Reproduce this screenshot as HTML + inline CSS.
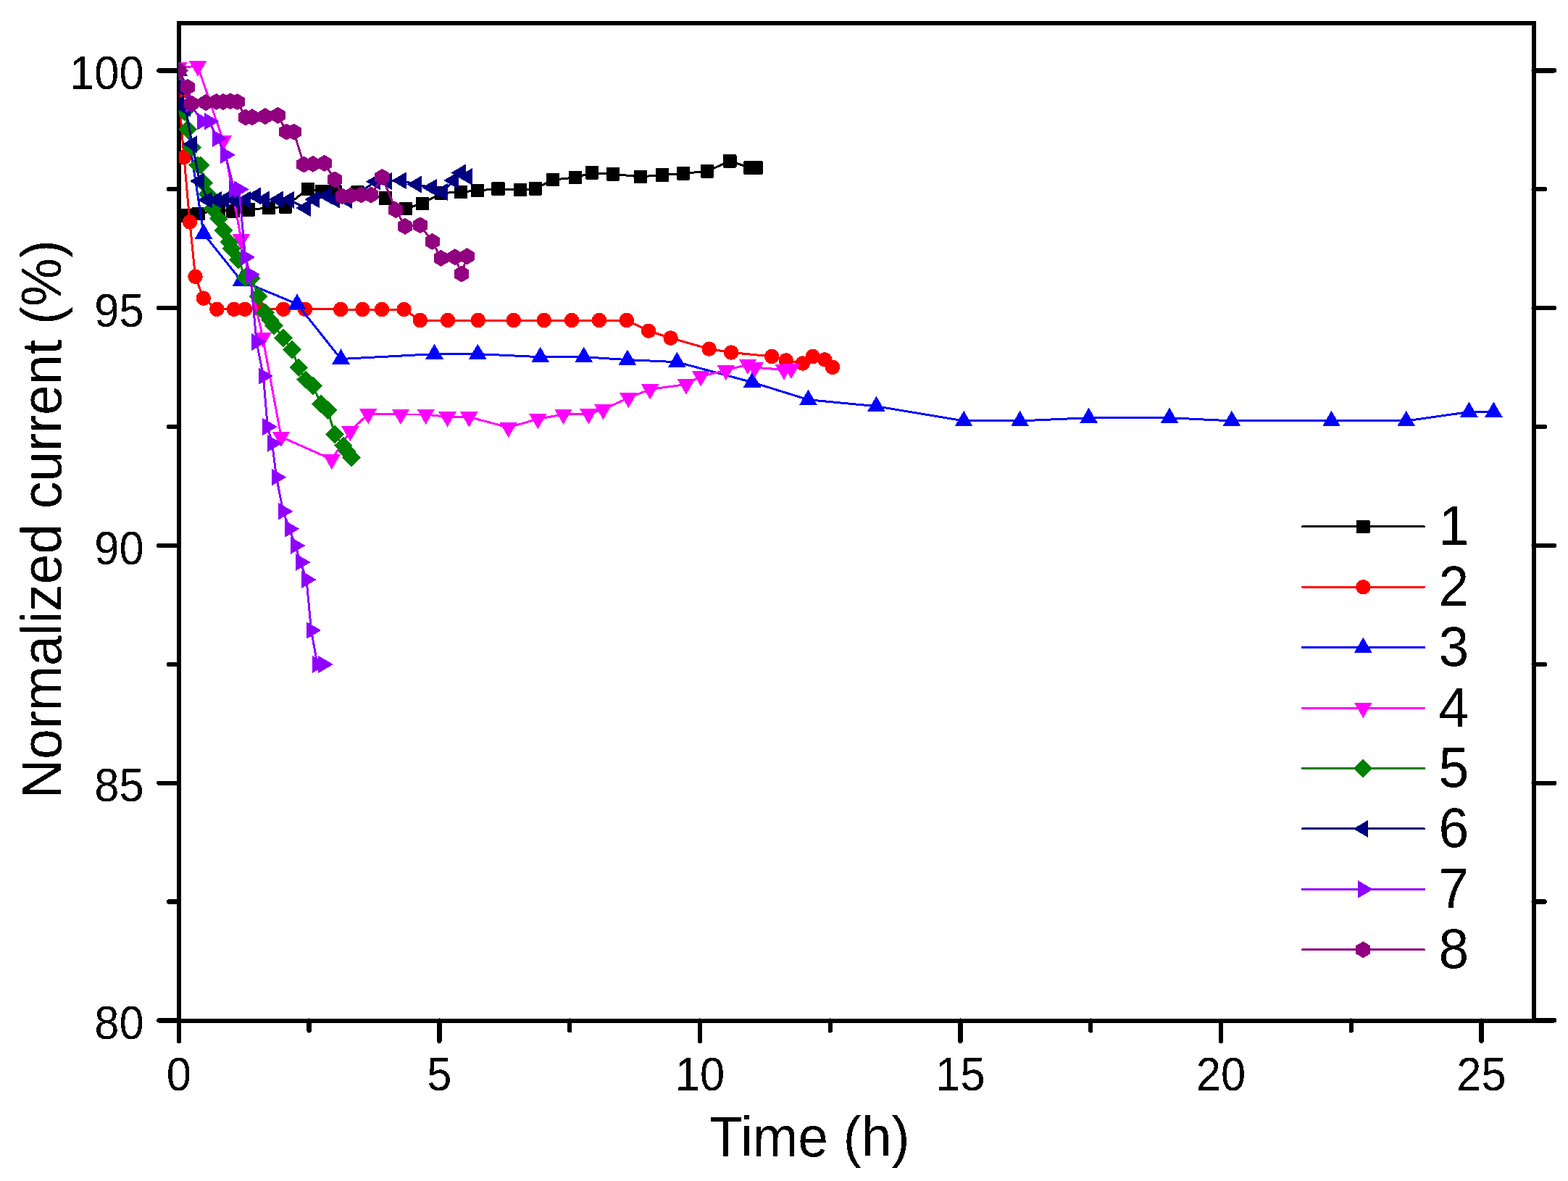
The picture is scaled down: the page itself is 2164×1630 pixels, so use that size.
<!DOCTYPE html>
<html><head><meta charset="utf-8"><title>Normalized current vs time</title>
<style>
html,body{margin:0;padding:0;background:#fff;}
svg{display:block;}
</style></head><body>
<svg width="2164" height="1630" viewBox="0 0 2164 1630" shape-rendering="crispEdges">
<defs><filter id="bin" filterUnits="userSpaceOnUse" x="0" y="0" width="2164" height="1630" color-interpolation-filters="sRGB"><feComponentTransfer><feFuncA type="discrete" tableValues="0 1"/></feComponentTransfer></filter><clipPath id="pc"><rect x="246.8" y="32" width="1869.8" height="1376.6"/></clipPath></defs>
<rect width="2164" height="1630" fill="#fff"/>
<g stroke="#000" stroke-width="6.3" stroke-linecap="round">
<rect x="246.8" y="32" width="1869.8" height="1376.6" fill="none" stroke="#000" stroke-width="6.0"/>
<line x1="246.8" y1="1408.6" x2="246.8" y2="1436.9"/>
<line x1="426.57" y1="1408.6" x2="426.57" y2="1422.4"/>
<line x1="606.35" y1="1408.6" x2="606.35" y2="1436.9"/>
<line x1="786.12" y1="1408.6" x2="786.12" y2="1422.4"/>
<line x1="965.9" y1="1408.6" x2="965.9" y2="1436.9"/>
<line x1="1145.67" y1="1408.6" x2="1145.67" y2="1422.4"/>
<line x1="1325.45" y1="1408.6" x2="1325.45" y2="1436.9"/>
<line x1="1505.22" y1="1408.6" x2="1505.22" y2="1422.4"/>
<line x1="1685" y1="1408.6" x2="1685" y2="1436.9"/>
<line x1="1864.77" y1="1408.6" x2="1864.77" y2="1422.4"/>
<line x1="2044.55" y1="1408.6" x2="2044.55" y2="1436.9"/>
<line x1="219.2" y1="1408.4" x2="246.8" y2="1408.4"/>
<line x1="2116.6" y1="1408.4" x2="2145.1" y2="1408.4"/>
<line x1="233" y1="1244.53" x2="246.8" y2="1244.53"/>
<line x1="2116.6" y1="1244.53" x2="2131.9" y2="1244.53"/>
<line x1="219.2" y1="1080.65" x2="246.8" y2="1080.65"/>
<line x1="2116.6" y1="1080.65" x2="2145.1" y2="1080.65"/>
<line x1="233" y1="916.77" x2="246.8" y2="916.77"/>
<line x1="2116.6" y1="916.77" x2="2131.9" y2="916.77"/>
<line x1="219.2" y1="752.9" x2="246.8" y2="752.9"/>
<line x1="2116.6" y1="752.9" x2="2145.1" y2="752.9"/>
<line x1="233" y1="589.02" x2="246.8" y2="589.02"/>
<line x1="2116.6" y1="589.02" x2="2131.9" y2="589.02"/>
<line x1="219.2" y1="425.15" x2="246.8" y2="425.15"/>
<line x1="2116.6" y1="425.15" x2="2145.1" y2="425.15"/>
<line x1="233" y1="261.27" x2="246.8" y2="261.27"/>
<line x1="2116.6" y1="261.27" x2="2131.9" y2="261.27"/>
<line x1="219.2" y1="97.4" x2="246.8" y2="97.4"/>
<line x1="2116.6" y1="97.4" x2="2145.1" y2="97.4"/>
</g>
<g clip-path="url(#pc)">
<g fill="#000000">
<path d="M247 297.2 L256 297.2 L273.7 295 L301.2 290 L321.5 291.2 L342.7 289.3 L371 287 L394 285.2 L424.9 260.8 L443.9 264.4 L462.3 264.4 L493.5 265.4 L532 273.5 L559.8 287.8 L582.9 281 L609.1 266.6 L635.9 265 L659 263 L687.5 260.6 L718.1 262.1 L739 260.2 L763 248 L794.1 245.1 L817 238.4 L846 240.3 L883.9 243.9 L914 241.5 L943 239.3 L976 236.4 L1007.2 222.3 L1035.5 231.5 L1043.5 231.5" fill="none" stroke="#000000" stroke-width="3.0" stroke-linejoin="round" stroke-linecap="round"/>
<rect x="237.7" y="287.9" width="18.6" height="18.6" rx="1.5"/>
<rect x="246.7" y="287.9" width="18.6" height="18.6" rx="1.5"/>
<rect x="264.4" y="285.7" width="18.6" height="18.6" rx="1.5"/>
<rect x="291.9" y="280.7" width="18.6" height="18.6" rx="1.5"/>
<rect x="312.2" y="281.9" width="18.6" height="18.6" rx="1.5"/>
<rect x="333.4" y="280" width="18.6" height="18.6" rx="1.5"/>
<rect x="361.7" y="277.7" width="18.6" height="18.6" rx="1.5"/>
<rect x="384.7" y="275.9" width="18.6" height="18.6" rx="1.5"/>
<rect x="415.6" y="251.5" width="18.6" height="18.6" rx="1.5"/>
<rect x="434.6" y="255.1" width="18.6" height="18.6" rx="1.5"/>
<rect x="453" y="255.1" width="18.6" height="18.6" rx="1.5"/>
<rect x="484.2" y="256.1" width="18.6" height="18.6" rx="1.5"/>
<rect x="522.7" y="264.2" width="18.6" height="18.6" rx="1.5"/>
<rect x="550.5" y="278.5" width="18.6" height="18.6" rx="1.5"/>
<rect x="573.6" y="271.7" width="18.6" height="18.6" rx="1.5"/>
<rect x="599.8" y="257.3" width="18.6" height="18.6" rx="1.5"/>
<rect x="626.6" y="255.7" width="18.6" height="18.6" rx="1.5"/>
<rect x="649.7" y="253.7" width="18.6" height="18.6" rx="1.5"/>
<rect x="678.2" y="251.3" width="18.6" height="18.6" rx="1.5"/>
<rect x="708.8" y="252.8" width="18.6" height="18.6" rx="1.5"/>
<rect x="729.7" y="250.9" width="18.6" height="18.6" rx="1.5"/>
<rect x="753.7" y="238.7" width="18.6" height="18.6" rx="1.5"/>
<rect x="784.8" y="235.8" width="18.6" height="18.6" rx="1.5"/>
<rect x="807.7" y="229.1" width="18.6" height="18.6" rx="1.5"/>
<rect x="836.7" y="231" width="18.6" height="18.6" rx="1.5"/>
<rect x="874.6" y="234.6" width="18.6" height="18.6" rx="1.5"/>
<rect x="904.7" y="232.2" width="18.6" height="18.6" rx="1.5"/>
<rect x="933.7" y="230" width="18.6" height="18.6" rx="1.5"/>
<rect x="966.7" y="227.1" width="18.6" height="18.6" rx="1.5"/>
<rect x="997.9" y="213" width="18.6" height="18.6" rx="1.5"/>
<rect x="1026.2" y="222.2" width="18.6" height="18.6" rx="1.5"/>
<rect x="1034.2" y="222.2" width="18.6" height="18.6" rx="1.5"/>
</g>
<g fill="#FF0000">
<path d="M246.6 130 L254 217 L261.9 306.4 L269.5 381.8 L280.8 411.6 L299.3 426.8 L323 426.8 L338 426.8 L359 427 L391.1 426.8 L421 426.8 L470.1 427 L500.3 427 L527 427 L557.5 427 L579.8 442 L618 442 L659.8 442 L708.8 442 L750.8 442 L789 442 L827 442 L864.8 442 L895.1 456.7 L925.6 466.5 L978.6 481.6 L1009.1 486.5 L1065.1 492 L1084.8 497.4 L1107.8 501.5 L1121.7 492 L1138.3 496.4 L1149 506.8" fill="none" stroke="#FF0000" stroke-width="3.0" stroke-linejoin="round" stroke-linecap="round"/>
<circle cx="246.6" cy="130" r="10.25"/>
<circle cx="254" cy="217" r="10.25"/>
<circle cx="261.9" cy="306.4" r="10.25"/>
<circle cx="269.5" cy="381.8" r="10.25"/>
<circle cx="280.8" cy="411.6" r="10.25"/>
<circle cx="299.3" cy="426.8" r="10.25"/>
<circle cx="323" cy="426.8" r="10.25"/>
<circle cx="338" cy="426.8" r="10.25"/>
<circle cx="359" cy="427" r="10.25"/>
<circle cx="391.1" cy="426.8" r="10.25"/>
<circle cx="421" cy="426.8" r="10.25"/>
<circle cx="470.1" cy="427" r="10.25"/>
<circle cx="500.3" cy="427" r="10.25"/>
<circle cx="527" cy="427" r="10.25"/>
<circle cx="557.5" cy="427" r="10.25"/>
<circle cx="579.8" cy="442" r="10.25"/>
<circle cx="618" cy="442" r="10.25"/>
<circle cx="659.8" cy="442" r="10.25"/>
<circle cx="708.8" cy="442" r="10.25"/>
<circle cx="750.8" cy="442" r="10.25"/>
<circle cx="789" cy="442" r="10.25"/>
<circle cx="827" cy="442" r="10.25"/>
<circle cx="864.8" cy="442" r="10.25"/>
<circle cx="895.1" cy="456.7" r="10.25"/>
<circle cx="925.6" cy="466.5" r="10.25"/>
<circle cx="978.6" cy="481.6" r="10.25"/>
<circle cx="1009.1" cy="486.5" r="10.25"/>
<circle cx="1065.1" cy="492" r="10.25"/>
<circle cx="1084.8" cy="497.4" r="10.25"/>
<circle cx="1107.8" cy="501.5" r="10.25"/>
<circle cx="1121.7" cy="492" r="10.25"/>
<circle cx="1138.3" cy="496.4" r="10.25"/>
<circle cx="1149" cy="506.8" r="10.25"/>
</g>
<g fill="#0000FF">
<path d="M246.6 97.7 L281 322.5 L333 387.6 L410 419.5 L470.5 495.5 L599.5 488.6 L659.3 488.6 L745.7 492.7 L805.7 492.7 L865.9 496.6 L934.3 499.7 L1038 527.6 L1115.5 551.7 L1209.4 560.7 L1330.1 580.9 L1407.6 580.9 L1502.6 576.7 L1614 576.7 L1699.9 580.9 L1837.5 580.9 L1940.7 580.9 L2027.4 568.6 L2061.4 568.6" fill="none" stroke="#0000FF" stroke-width="3.0" stroke-linejoin="round" stroke-linecap="round"/>
<path d="M246.6 83.6 L258.85 104.77 L234.35 104.77Z"/>
<path d="M281 308.4 L293.25 329.57 L268.75 329.57Z"/>
<path d="M333 373.5 L345.25 394.67 L320.75 394.67Z"/>
<path d="M410 405.4 L422.25 426.57 L397.75 426.57Z"/>
<path d="M470.5 481.4 L482.75 502.57 L458.25 502.57Z"/>
<path d="M599.5 474.5 L611.75 495.67 L587.25 495.67Z"/>
<path d="M659.3 474.5 L671.55 495.67 L647.05 495.67Z"/>
<path d="M745.7 478.6 L757.95 499.77 L733.45 499.77Z"/>
<path d="M805.7 478.6 L817.95 499.77 L793.45 499.77Z"/>
<path d="M865.9 482.5 L878.15 503.67 L853.65 503.67Z"/>
<path d="M934.3 485.6 L946.55 506.77 L922.05 506.77Z"/>
<path d="M1038 513.5 L1050.25 534.67 L1025.75 534.67Z"/>
<path d="M1115.5 537.6 L1127.75 558.77 L1103.25 558.77Z"/>
<path d="M1209.4 546.6 L1221.65 567.77 L1197.15 567.77Z"/>
<path d="M1330.1 566.8 L1342.35 587.97 L1317.85 587.97Z"/>
<path d="M1407.6 566.8 L1419.85 587.97 L1395.35 587.97Z"/>
<path d="M1502.6 562.6 L1514.85 583.77 L1490.35 583.77Z"/>
<path d="M1614 562.6 L1626.25 583.77 L1601.75 583.77Z"/>
<path d="M1699.9 566.8 L1712.15 587.97 L1687.65 587.97Z"/>
<path d="M1837.5 566.8 L1849.75 587.97 L1825.25 587.97Z"/>
<path d="M1940.7 566.8 L1952.95 587.97 L1928.45 587.97Z"/>
<path d="M2027.4 554.5 L2039.65 575.67 L2015.15 575.67Z"/>
<path d="M2061.4 554.5 L2073.65 575.67 L2049.15 575.67Z"/>
</g>
<g fill="#FF00FF">
<path d="M246.6 93 L273 91.4 L308 194 L332.8 330.2 L362.6 466 L388 603 L457.8 634 L483.3 595.2 L508.2 571.2 L553 572 L587.7 572 L617.5 575.5 L647.3 575.5 L701.7 590 L742.4 578.2 L777.5 572 L812.4 571.4 L832.4 565.1 L867.3 549.2 L897.1 537.4 L947 530.5 L967.2 519.4 L1001.9 511.1 L1032 503 L1041.7 507.2 L1082 510.4 L1092 509" fill="none" stroke="#FF00FF" stroke-width="3.0" stroke-linejoin="round" stroke-linecap="round"/>
<path d="M234.35 85.93 L258.85 85.93 L246.6 107.1Z"/>
<path d="M260.75 84.33 L285.25 84.33 L273 105.5Z"/>
<path d="M295.75 186.93 L320.25 186.93 L308 208.1Z"/>
<path d="M320.55 323.13 L345.05 323.13 L332.8 344.3Z"/>
<path d="M350.35 458.93 L374.85 458.93 L362.6 480.1Z"/>
<path d="M375.75 595.93 L400.25 595.93 L388 617.1Z"/>
<path d="M445.55 626.93 L470.05 626.93 L457.8 648.1Z"/>
<path d="M471.05 588.13 L495.55 588.13 L483.3 609.3Z"/>
<path d="M495.95 564.13 L520.45 564.13 L508.2 585.3Z"/>
<path d="M540.75 564.93 L565.25 564.93 L553 586.1Z"/>
<path d="M575.45 564.93 L599.95 564.93 L587.7 586.1Z"/>
<path d="M605.25 568.43 L629.75 568.43 L617.5 589.6Z"/>
<path d="M635.05 568.43 L659.55 568.43 L647.3 589.6Z"/>
<path d="M689.45 582.93 L713.95 582.93 L701.7 604.1Z"/>
<path d="M730.15 571.13 L754.65 571.13 L742.4 592.3Z"/>
<path d="M765.25 564.93 L789.75 564.93 L777.5 586.1Z"/>
<path d="M800.15 564.33 L824.65 564.33 L812.4 585.5Z"/>
<path d="M820.15 558.03 L844.65 558.03 L832.4 579.2Z"/>
<path d="M855.05 542.13 L879.55 542.13 L867.3 563.3Z"/>
<path d="M884.85 530.33 L909.35 530.33 L897.1 551.5Z"/>
<path d="M934.75 523.43 L959.25 523.43 L947 544.6Z"/>
<path d="M954.95 512.33 L979.45 512.33 L967.2 533.5Z"/>
<path d="M989.65 504.03 L1014.15 504.03 L1001.9 525.2Z"/>
<path d="M1019.75 495.93 L1044.25 495.93 L1032 517.1Z"/>
<path d="M1029.45 500.13 L1053.95 500.13 L1041.7 521.3Z"/>
<path d="M1069.75 503.33 L1094.25 503.33 L1082 524.5Z"/>
<path d="M1079.75 501.93 L1104.25 501.93 L1092 523.1Z"/>
</g>
<g fill="#008000">
<path d="M246.6 97.5 L254.7 153.8 L259.3 178.5 L265 203.6 L273 228 L277 228 L281 252.3 L286.5 268 L293 288 L301.8 301.8 L308.7 318 L316.2 334.2 L319.9 343 L329.2 358.7 L338.5 383 L347 384 L356.8 409 L366 431.5 L373 442 L378 449.6 L391 466.7 L403 482.8 L412.3 507.3 L422 524 L432 532.8 L443 557.5 L452.2 566 L462 599.2 L474 615 L479 623 L485 631.5" fill="none" stroke="#008000" stroke-width="3.0" stroke-linejoin="round" stroke-linecap="round"/>
<path d="M246.6 84.6 L259.6 97.5 L246.6 110.4 L233.6 97.5Z"/>
<path d="M254.7 140.9 L267.7 153.8 L254.7 166.7 L241.7 153.8Z"/>
<path d="M259.3 165.6 L272.3 178.5 L259.3 191.4 L246.3 178.5Z"/>
<path d="M265 190.7 L278 203.6 L265 216.5 L252 203.6Z"/>
<path d="M273 215.1 L286 228 L273 240.9 L260 228Z"/>
<path d="M277 215.1 L290 228 L277 240.9 L264 228Z"/>
<path d="M281 239.4 L294 252.3 L281 265.2 L268 252.3Z"/>
<path d="M286.5 255.1 L299.5 268 L286.5 280.9 L273.5 268Z"/>
<path d="M293 275.1 L306 288 L293 300.9 L280 288Z"/>
<path d="M301.8 288.9 L314.8 301.8 L301.8 314.7 L288.8 301.8Z"/>
<path d="M308.7 305.1 L321.7 318 L308.7 330.9 L295.7 318Z"/>
<path d="M316.2 321.3 L329.2 334.2 L316.2 347.1 L303.2 334.2Z"/>
<path d="M319.9 330.1 L332.9 343 L319.9 355.9 L306.9 343Z"/>
<path d="M329.2 345.8 L342.2 358.7 L329.2 371.6 L316.2 358.7Z"/>
<path d="M338.5 370.1 L351.5 383 L338.5 395.9 L325.5 383Z"/>
<path d="M347 371.1 L360 384 L347 396.9 L334 384Z"/>
<path d="M356.8 396.1 L369.8 409 L356.8 421.9 L343.8 409Z"/>
<path d="M366 418.6 L379 431.5 L366 444.4 L353 431.5Z"/>
<path d="M373 429.1 L386 442 L373 454.9 L360 442Z"/>
<path d="M378 436.7 L391 449.6 L378 462.5 L365 449.6Z"/>
<path d="M391 453.8 L404 466.7 L391 479.6 L378 466.7Z"/>
<path d="M403 469.9 L416 482.8 L403 495.7 L390 482.8Z"/>
<path d="M412.3 494.4 L425.3 507.3 L412.3 520.2 L399.3 507.3Z"/>
<path d="M422 511.1 L435 524 L422 536.9 L409 524Z"/>
<path d="M432 519.9 L445 532.8 L432 545.7 L419 532.8Z"/>
<path d="M443 544.6 L456 557.5 L443 570.4 L430 557.5Z"/>
<path d="M452.2 553.1 L465.2 566 L452.2 578.9 L439.2 566Z"/>
<path d="M462 586.3 L475 599.2 L462 612.1 L449 599.2Z"/>
<path d="M474 602.1 L487 615 L474 627.9 L461 615Z"/>
<path d="M479 610.1 L492 623 L479 635.9 L466 623Z"/>
<path d="M485 618.6 L498 631.5 L485 644.4 L472 631.5Z"/>
</g>
<g fill="#000080">
<path d="M246.6 120 L247.2 144 L255.9 149 L265.3 199 L275.5 250 L286.5 276 L299 276 L309.3 276 L323 276 L338.8 276 L353.1 270.4 L365 275.5 L384 275.5 L399 275.8 L421.9 287 L434 275.3 L451 270 L462 275.6 L479 276 L518.5 250.7 L533.7 250 L554.1 249.3 L575 254.5 L595.9 258.9 L610.8 265 L626 249 L636 238.5 L645.1 244" fill="none" stroke="#000080" stroke-width="3.0" stroke-linejoin="round" stroke-linecap="round"/>
<path d="M232.8 120 L253.5 108 L253.5 132Z"/>
<path d="M233.4 144 L254.1 132 L254.1 156Z"/>
<path d="M242.1 149 L262.8 137 L262.8 161Z"/>
<path d="M251.5 199 L272.2 187 L272.2 211Z"/>
<path d="M261.7 250 L282.4 238 L282.4 262Z"/>
<path d="M272.7 276 L293.4 264 L293.4 288Z"/>
<path d="M285.2 276 L305.9 264 L305.9 288Z"/>
<path d="M295.5 276 L316.2 264 L316.2 288Z"/>
<path d="M309.2 276 L329.9 264 L329.9 288Z"/>
<path d="M325 276 L345.7 264 L345.7 288Z"/>
<path d="M339.3 270.4 L360 258.4 L360 282.4Z"/>
<path d="M351.2 275.5 L371.9 263.5 L371.9 287.5Z"/>
<path d="M370.2 275.5 L390.9 263.5 L390.9 287.5Z"/>
<path d="M385.2 275.8 L405.9 263.8 L405.9 287.8Z"/>
<path d="M408.1 287 L428.8 275 L428.8 299Z"/>
<path d="M420.2 275.3 L440.9 263.3 L440.9 287.3Z"/>
<path d="M437.2 270 L457.9 258 L457.9 282Z"/>
<path d="M448.2 275.6 L468.9 263.6 L468.9 287.6Z"/>
<path d="M465.2 276 L485.9 264 L485.9 288Z"/>
<path d="M504.7 250.7 L525.4 238.7 L525.4 262.7Z"/>
<path d="M519.9 250 L540.6 238 L540.6 262Z"/>
<path d="M540.3 249.3 L561 237.3 L561 261.3Z"/>
<path d="M561.2 254.5 L581.9 242.5 L581.9 266.5Z"/>
<path d="M582.1 258.9 L602.8 246.9 L602.8 270.9Z"/>
<path d="M597 265 L617.7 253 L617.7 277Z"/>
<path d="M612.2 249 L632.9 237 L632.9 261Z"/>
<path d="M622.2 238.5 L642.9 226.5 L642.9 250.5Z"/>
<path d="M631.3 244 L652 232 L652 256Z"/>
</g>
<g fill="#8F00FF">
<path d="M246.6 97.5 L262.6 143.6 L278.9 167.6 L288.7 167.5 L300 191 L311.2 213.8 L323 261.2 L330 261.4 L338.5 355 L345.5 379 L354 472 L363.5 519 L369.2 589 L375.6 612 L381.5 658.7 L390.7 705.8 L399.4 729.9 L407.6 753 L414.8 776 L423 800 L429.5 870 L438 917 L446.2 917" fill="none" stroke="#8F00FF" stroke-width="3.0" stroke-linejoin="round" stroke-linecap="round"/>
<path d="M260.4 97.5 L239.7 85.5 L239.7 109.5Z"/>
<path d="M276.4 143.6 L255.7 131.6 L255.7 155.6Z"/>
<path d="M292.7 167.6 L272 155.6 L272 179.6Z"/>
<path d="M302.5 167.5 L281.8 155.5 L281.8 179.5Z"/>
<path d="M313.8 191 L293.1 179 L293.1 203Z"/>
<path d="M325 213.8 L304.3 201.8 L304.3 225.8Z"/>
<path d="M336.8 261.2 L316.1 249.2 L316.1 273.2Z"/>
<path d="M343.8 261.4 L323.1 249.4 L323.1 273.4Z"/>
<path d="M352.3 355 L331.6 343 L331.6 367Z"/>
<path d="M359.3 379 L338.6 367 L338.6 391Z"/>
<path d="M367.8 472 L347.1 460 L347.1 484Z"/>
<path d="M377.3 519 L356.6 507 L356.6 531Z"/>
<path d="M383 589 L362.3 577 L362.3 601Z"/>
<path d="M389.4 612 L368.7 600 L368.7 624Z"/>
<path d="M395.3 658.7 L374.6 646.7 L374.6 670.7Z"/>
<path d="M404.5 705.8 L383.8 693.8 L383.8 717.8Z"/>
<path d="M413.2 729.9 L392.5 717.9 L392.5 741.9Z"/>
<path d="M421.4 753 L400.7 741 L400.7 765Z"/>
<path d="M428.6 776 L407.9 764 L407.9 788Z"/>
<path d="M436.8 800 L416.1 788 L416.1 812Z"/>
<path d="M443.3 870 L422.6 858 L422.6 882Z"/>
<path d="M451.8 917 L431.1 905 L431.1 929Z"/>
<path d="M460 917 L439.3 905 L439.3 929Z"/>
</g>
<g fill="#91007F">
<path d="M246.6 97.5 L258.8 120.3 L264.4 143 L284 141.5 L298.6 140.4 L308 140.5 L317.8 139.7 L327.5 140.5 L339.1 162 L348 161.7 L366 160.5 L383.5 159.2 L395.3 182 L405.5 182 L419.3 227 L431.8 226.3 L447.7 225.3 L462 247.8 L472.5 271 L484.1 270 L498.3 269 L512 269 L527.4 244.4 L546.3 289.8 L558.9 312.4 L579.9 310.8 L596.5 333.4 L608.6 356.3 L627.9 354.7 L637 378.1 L644.5 353.8" fill="none" stroke="#91007F" stroke-width="3.0" stroke-linejoin="round" stroke-linecap="round"/>
<path d="M246.6 86 L256.6 91.9 L256.6 103.1 L246.6 109 L236.6 103.1 L236.6 91.9Z"/>
<path d="M258.8 108.8 L268.8 114.7 L268.8 125.9 L258.8 131.8 L248.8 125.9 L248.8 114.7Z"/>
<path d="M264.4 131.5 L274.4 137.4 L274.4 148.6 L264.4 154.5 L254.4 148.6 L254.4 137.4Z"/>
<path d="M284 130 L294 135.9 L294 147.1 L284 153 L274 147.1 L274 135.9Z"/>
<path d="M298.6 128.9 L308.6 134.8 L308.6 146 L298.6 151.9 L288.6 146 L288.6 134.8Z"/>
<path d="M308 129 L318 134.9 L318 146.1 L308 152 L298 146.1 L298 134.9Z"/>
<path d="M317.8 128.2 L327.8 134.1 L327.8 145.3 L317.8 151.2 L307.8 145.3 L307.8 134.1Z"/>
<path d="M327.5 129 L337.5 134.9 L337.5 146.1 L327.5 152 L317.5 146.1 L317.5 134.9Z"/>
<path d="M339.1 150.5 L349.1 156.4 L349.1 167.6 L339.1 173.5 L329.1 167.6 L329.1 156.4Z"/>
<path d="M348 150.2 L358 156.1 L358 167.3 L348 173.2 L338 167.3 L338 156.1Z"/>
<path d="M366 149 L376 154.9 L376 166.1 L366 172 L356 166.1 L356 154.9Z"/>
<path d="M383.5 147.7 L393.5 153.6 L393.5 164.8 L383.5 170.7 L373.5 164.8 L373.5 153.6Z"/>
<path d="M395.3 170.5 L405.3 176.4 L405.3 187.6 L395.3 193.5 L385.3 187.6 L385.3 176.4Z"/>
<path d="M405.5 170.5 L415.5 176.4 L415.5 187.6 L405.5 193.5 L395.5 187.6 L395.5 176.4Z"/>
<path d="M419.3 215.5 L429.3 221.4 L429.3 232.6 L419.3 238.5 L409.3 232.6 L409.3 221.4Z"/>
<path d="M431.8 214.8 L441.8 220.7 L441.8 231.9 L431.8 237.8 L421.8 231.9 L421.8 220.7Z"/>
<path d="M447.7 213.8 L457.7 219.7 L457.7 230.9 L447.7 236.8 L437.7 230.9 L437.7 219.7Z"/>
<path d="M462 236.3 L472 242.2 L472 253.4 L462 259.3 L452 253.4 L452 242.2Z"/>
<path d="M472.5 259.5 L482.5 265.4 L482.5 276.6 L472.5 282.5 L462.5 276.6 L462.5 265.4Z"/>
<path d="M484.1 258.5 L494.1 264.4 L494.1 275.6 L484.1 281.5 L474.1 275.6 L474.1 264.4Z"/>
<path d="M498.3 257.5 L508.3 263.4 L508.3 274.6 L498.3 280.5 L488.3 274.6 L488.3 263.4Z"/>
<path d="M512 257.5 L522 263.4 L522 274.6 L512 280.5 L502 274.6 L502 263.4Z"/>
<path d="M527.4 232.9 L537.4 238.8 L537.4 250 L527.4 255.9 L517.4 250 L517.4 238.8Z"/>
<path d="M546.3 278.3 L556.3 284.2 L556.3 295.4 L546.3 301.3 L536.3 295.4 L536.3 284.2Z"/>
<path d="M558.9 300.9 L568.9 306.8 L568.9 318 L558.9 323.9 L548.9 318 L548.9 306.8Z"/>
<path d="M579.9 299.3 L589.9 305.2 L589.9 316.4 L579.9 322.3 L569.9 316.4 L569.9 305.2Z"/>
<path d="M596.5 321.9 L606.5 327.8 L606.5 339 L596.5 344.9 L586.5 339 L586.5 327.8Z"/>
<path d="M608.6 344.8 L618.6 350.7 L618.6 361.9 L608.6 367.8 L598.6 361.9 L598.6 350.7Z"/>
<path d="M627.9 343.2 L637.9 349.1 L637.9 360.3 L627.9 366.2 L617.9 360.3 L617.9 349.1Z"/>
<path d="M637 366.6 L647 372.5 L647 383.7 L637 389.6 L627 383.7 L627 372.5Z"/>
<path d="M644.5 342.3 L654.5 348.2 L654.5 359.4 L644.5 365.3 L634.5 359.4 L634.5 348.2Z"/>
</g>
</g>
<g font-family="'Liberation Sans', Arial, sans-serif" font-size="61.5" fill="#000" filter="url(#bin)">
<text transform="translate(246.8 1504.6) scale(1 1.041)" text-anchor="middle">0</text>
<text transform="translate(606.35 1504.6) scale(1 1.041)" text-anchor="middle">5</text>
<text transform="translate(965.9 1504.6) scale(1 1.041)" text-anchor="middle">10</text>
<text transform="translate(1325.45 1504.6) scale(1 1.041)" text-anchor="middle">15</text>
<text transform="translate(1685 1504.6) scale(1 1.041)" text-anchor="middle">20</text>
<text transform="translate(2044.55 1504.6) scale(1 1.041)" text-anchor="middle">25</text>
<text transform="translate(198.6 1434) scale(1 1.041)" text-anchor="end">80</text>
<text transform="translate(198.6 1106.25) scale(1 1.041)" text-anchor="end">85</text>
<text transform="translate(198.6 778.5) scale(1 1.041)" text-anchor="end">90</text>
<text transform="translate(198.6 450.75) scale(1 1.041)" text-anchor="end">95</text>
<text transform="translate(198.6 123) scale(1 1.041)" text-anchor="end">100</text>
</g>
<g font-family="'Liberation Sans', Arial, sans-serif" font-size="75" fill="#000" filter="url(#bin)">
<text transform="translate(1117.2 1595.7) scale(1 1.041)" text-anchor="middle">Time (h)</text>
<text transform="translate(84.3 716.6) rotate(-90) scale(1 1.041)" text-anchor="middle">Normalized current (%)</text>
</g>
<g>
<line x1="1797.5" y1="726.8" x2="1965.5" y2="726.8" stroke="#000000" stroke-width="3" stroke-linecap="round"/>
<g fill="#000000"><rect x="1872" y="717.5" width="18.6" height="18.6" rx="1.5"/></g>
<line x1="1797.5" y1="810.23" x2="1965.5" y2="810.23" stroke="#FF0000" stroke-width="3" stroke-linecap="round"/>
<g fill="#FF0000"><circle cx="1881.3" cy="810.23" r="10.25"/></g>
<line x1="1797.5" y1="893.66" x2="1965.5" y2="893.66" stroke="#0000FF" stroke-width="3" stroke-linecap="round"/>
<g fill="#0000FF"><path d="M1881.3 879.56 L1893.55 900.73 L1869.05 900.73Z"/></g>
<line x1="1797.5" y1="977.09" x2="1965.5" y2="977.09" stroke="#FF00FF" stroke-width="3" stroke-linecap="round"/>
<g fill="#FF00FF"><path d="M1869.05 970.02 L1893.55 970.02 L1881.3 991.19Z"/></g>
<line x1="1797.5" y1="1060.52" x2="1965.5" y2="1060.52" stroke="#008000" stroke-width="3" stroke-linecap="round"/>
<g fill="#008000"><path d="M1881.3 1047.62 L1894.3 1060.52 L1881.3 1073.42 L1868.3 1060.52Z"/></g>
<line x1="1797.5" y1="1143.95" x2="1965.5" y2="1143.95" stroke="#000080" stroke-width="3" stroke-linecap="round"/>
<g fill="#000080"><path d="M1867.5 1143.95 L1888.2 1131.95 L1888.2 1155.95Z"/></g>
<line x1="1797.5" y1="1227.38" x2="1965.5" y2="1227.38" stroke="#8F00FF" stroke-width="3" stroke-linecap="round"/>
<g fill="#8F00FF"><path d="M1895.1 1227.38 L1874.4 1215.38 L1874.4 1239.38Z"/></g>
<line x1="1797.5" y1="1310.81" x2="1965.5" y2="1310.81" stroke="#91007F" stroke-width="3" stroke-linecap="round"/>
<g fill="#91007F"><path d="M1881.3 1299.31 L1891.3 1305.21 L1891.3 1316.41 L1881.3 1322.31 L1871.3 1316.41 L1871.3 1305.21Z"/></g>
</g>
<g font-family="'Liberation Sans', Arial, sans-serif" font-size="75" fill="#000" filter="url(#bin)">
<text transform="translate(1985.6 752.3) scale(1 1.041)">1</text>
<text transform="translate(1985.6 835.73) scale(1 1.041)">2</text>
<text transform="translate(1985.6 919.16) scale(1 1.041)">3</text>
<text transform="translate(1985.6 1002.59) scale(1 1.041)">4</text>
<text transform="translate(1985.6 1086.02) scale(1 1.041)">5</text>
<text transform="translate(1985.6 1169.45) scale(1 1.041)">6</text>
<text transform="translate(1985.6 1252.88) scale(1 1.041)">7</text>
<text transform="translate(1985.6 1336.31) scale(1 1.041)">8</text>
</g>
</svg>
</body></html>
